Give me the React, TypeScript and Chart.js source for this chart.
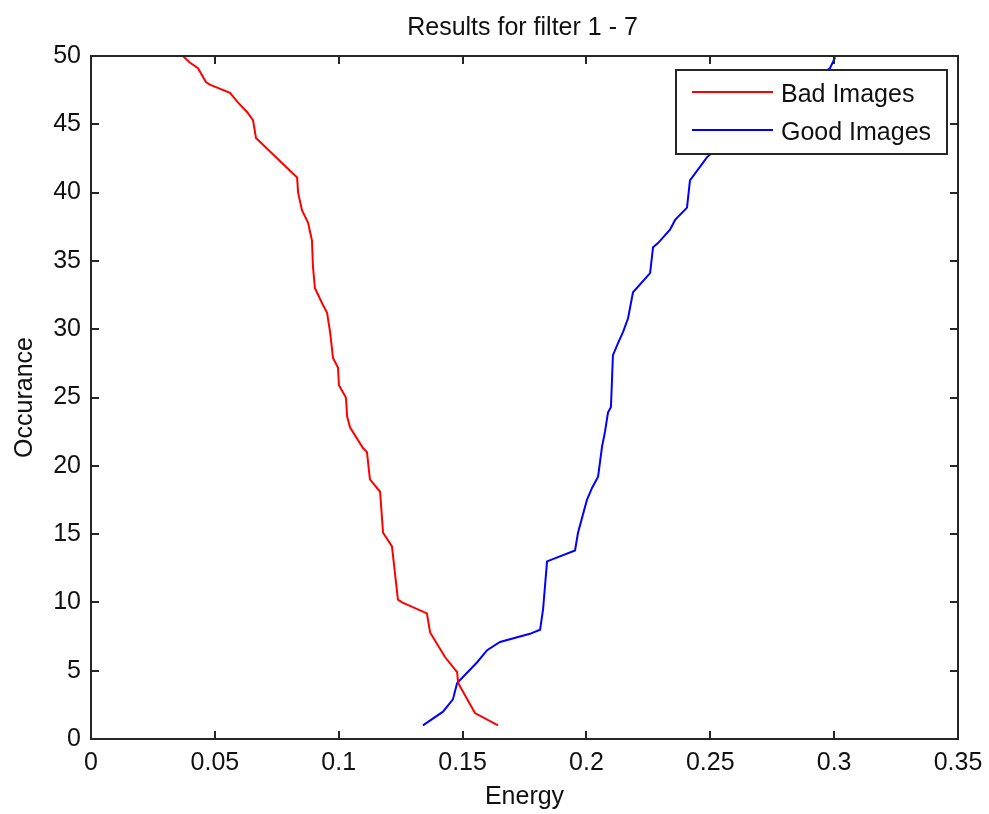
import React, { useEffect, useRef } from "react";
import { Chart, registerables } from "chart.js";

Chart.register(...registerables);

const titleText = "Results for filter 1 - 7";
const xAxisTitle = "Energy";
const yAxisTitle = "Occurance";

const xTickValues = [0, 0.05, 0.1, 0.15, 0.2, 0.25, 0.3, 0.35];
const xTickLabels = ["0", "0.05", "0.1", "0.15", "0.2", "0.25", "0.3", "0.35"];
const yTickValues = [0, 5, 10, 15, 20, 25, 30, 35, 40, 45, 50];
const yTickLabels = ["0", "5", "10", "15", "20", "25", "30", "35", "40", "45", "50"];

const badLabel = "Bad Images";
const badX = [0.0371, 0.04, 0.0432, 0.0464, 0.048, 0.0561, 0.0593, 0.063, 0.0654, 0.0666, 0.0832, 0.0836, 0.0852, 0.0876, 0.0892, 0.0896, 0.0904, 0.0933, 0.0953, 0.0965, 0.0977, 0.0997, 0.1001, 0.1029, 0.1034, 0.1046, 0.1098, 0.1114, 0.1126, 0.1167, 0.1179, 0.1215, 0.1239, 0.1256, 0.1356, 0.1369, 0.1429, 0.1478, 0.1482, 0.155, 0.1643];
const badY = [50, 49.5, 49.1, 48.1, 47.9, 47.3, 46.6, 45.9, 45.3, 44.0, 41.1, 40.0, 38.7, 37.8, 36.5, 34.6, 33.0, 31.9, 31.2, 29.8, 27.9, 27.2, 25.9, 25.0, 23.6, 22.8, 21.3, 21.0, 19.0, 18.1, 15.1, 14.1, 10.2, 10.0, 9.2, 7.8, 6.0, 4.9, 4.1, 1.9, 1.0];

const goodLabel = "Good Images";
const goodX = [0.134, 0.1421, 0.1461, 0.1478, 0.1558, 0.1599, 0.1651, 0.1772, 0.1813, 0.1825, 0.1841, 0.1954, 0.1966, 0.2002, 0.2023, 0.2047, 0.2063, 0.2075, 0.2087, 0.2099, 0.2107, 0.2128, 0.2148, 0.2168, 0.2188, 0.2257, 0.2269, 0.2289, 0.2338, 0.2358, 0.2406, 0.2418, 0.2487, 0.262, 0.282, 0.2983, 0.3004];
const goodY = [1.0, 2.0, 2.9, 4.1, 5.6, 6.5, 7.1, 7.7, 8.0, 9.5, 13.0, 13.8, 15.1, 17.5, 18.4, 19.2, 21.4, 22.5, 23.9, 24.3, 28.1, 29.0, 29.8, 30.8, 32.7, 34.1, 36.0, 36.3, 37.3, 38.0, 38.9, 40.9, 42.6, 44.6, 47.1, 49.1, 49.9];

const FONT = "'Liberation Sans', Arial, Helvetica, sans-serif";
const FS = 25;
const AXIS_COLOR = "#262626";

const framePlugin = {
  id: "matlabFrame",
  afterDatasetsDraw(chart: any) {
    const ctx = chart.ctx;
    const { left, right, top, bottom } = chart.chartArea;
    const xs = chart.scales.x;
    const ys = chart.scales.y;
    ctx.save();
    ctx.strokeStyle = AXIS_COLOR;
    ctx.lineWidth = 2;
    ctx.strokeRect(left, top, right - left, bottom - top);
    const tl = 8;
    ctx.beginPath();
    xTickValues.forEach((v) => {
      const px = Math.round(xs.getPixelForValue(v));
      ctx.moveTo(px, bottom);
      ctx.lineTo(px, bottom - tl);
      ctx.moveTo(px, top);
      ctx.lineTo(px, top + tl);
    });
    yTickValues.forEach((v) => {
      const py = Math.round(ys.getPixelForValue(v));
      ctx.moveTo(left, py);
      ctx.lineTo(left + tl, py);
      ctx.moveTo(right, py);
      ctx.lineTo(right - tl, py);
    });
    ctx.stroke();

    // legend box
    const bx = 676, by = 70, bw = 271, bh = 84;
    ctx.fillStyle = "#ffffff";
    ctx.fillRect(bx, by, bw, bh);
    ctx.lineWidth = 2;
    ctx.strokeStyle = AXIS_COLOR;
    ctx.strokeRect(bx, by, bw, bh);
    const rows = [92, 130];
    chart.data.datasets.forEach((ds: any, i: number) => {
      const y = rows[i];
      ctx.strokeStyle = ds.borderColor;
      ctx.lineWidth = 2;
      ctx.beginPath();
      ctx.moveTo(692, y);
      ctx.lineTo(773, y);
      ctx.stroke();
      ctx.fillStyle = "#111";
      ctx.font = `${FS}px ${FONT}`;
      ctx.textAlign = "left";
      ctx.textBaseline = "middle";
      ctx.fillText(ds.label, 781, y + 3);
    });

    // title
    ctx.fillStyle = "#111";
    ctx.font = `${FS}px ${FONT}`;
    ctx.textAlign = "center";
    ctx.textBaseline = "middle";
    ctx.fillText(titleText, (left + right) / 2 - 2, 28);
    ctx.restore();
  },
};

export default function App() {
  const ref = useRef<HTMLCanvasElement | null>(null);
  useEffect(() => {
    if (!ref.current) return;
    const chart = new Chart(ref.current, {
      type: "line",
      data: {
        datasets: [
          {
            label: badLabel,
            data: badX.map((x, i) => ({ x, y: badY[i] })),
            borderColor: "#ff0000",
            backgroundColor: "#ff0000",
            borderWidth: 2,
            pointRadius: 0,
            tension: 0,
          },
          {
            label: goodLabel,
            data: goodX.map((x, i) => ({ x, y: goodY[i] })),
            borderColor: "#0000ff",
            backgroundColor: "#0000ff",
            borderWidth: 2,
            pointRadius: 0,
            tension: 0,
          },
        ],
      },
      options: {
        responsive: false,
        animation: false,
        layout: { padding: { top: 56, right: 31, left: 0, bottom: 0 } },
        plugins: {
          legend: { display: false },
          title: { display: false },
          tooltip: { enabled: false },
        },
        scales: {
          x: {
            type: "linear",
            min: 0,
            max: 0.35,
            afterBuildTicks: (s: any) => {
              s.ticks = xTickValues.map((v) => ({ value: v }));
            },
            afterFit: (s: any) => {
              s.height = 75;
              s.paddingLeft = 0;
              s.paddingRight = 0;
            },
            grid: { display: false, drawTicks: false },
            border: { display: false },
            ticks: {
              callback: (_v: any, i: number) => xTickLabels[i],
              font: { family: FONT, size: FS },
              color: "#111",
              padding: 9,
              maxRotation: 0,
              autoSkip: false,
            },
            title: {
              display: true,
              text: xAxisTitle,
              font: { family: FONT, size: FS },
              color: "#111",
              padding: { top: 0, bottom: 2 },
            },
          },
          y: {
            type: "linear",
            min: 0,
            max: 50,
            afterBuildTicks: (s: any) => {
              s.ticks = yTickValues.map((v) => ({ value: v }));
            },
            afterFit: (s: any) => {
              s.width = 91;
              s.paddingTop = 0;
              s.paddingBottom = 0;
            },
            grid: { display: false, drawTicks: false },
            border: { display: false },
            ticks: {
              callback: (_v: any, i: number) => yTickLabels[i],
              font: { family: FONT, size: FS },
              color: "#111",
              padding: 10,
              autoSkip: false,
            },
            title: {
              display: true,
              text: yAxisTitle,
              font: { family: FONT, size: FS },
              color: "#111",
              padding: { top: 10, bottom: 0 },
            },
          },
        },
      },
      plugins: [framePlugin],
    });
    return () => chart.destroy();
  }, []);
  return (
    <div style={{ position: "absolute", left: 0, top: 0, width: 989, height: 814, background: "#fff" }}>
      <canvas ref={ref} width={989} height={814} />
    </div>
  );
}
